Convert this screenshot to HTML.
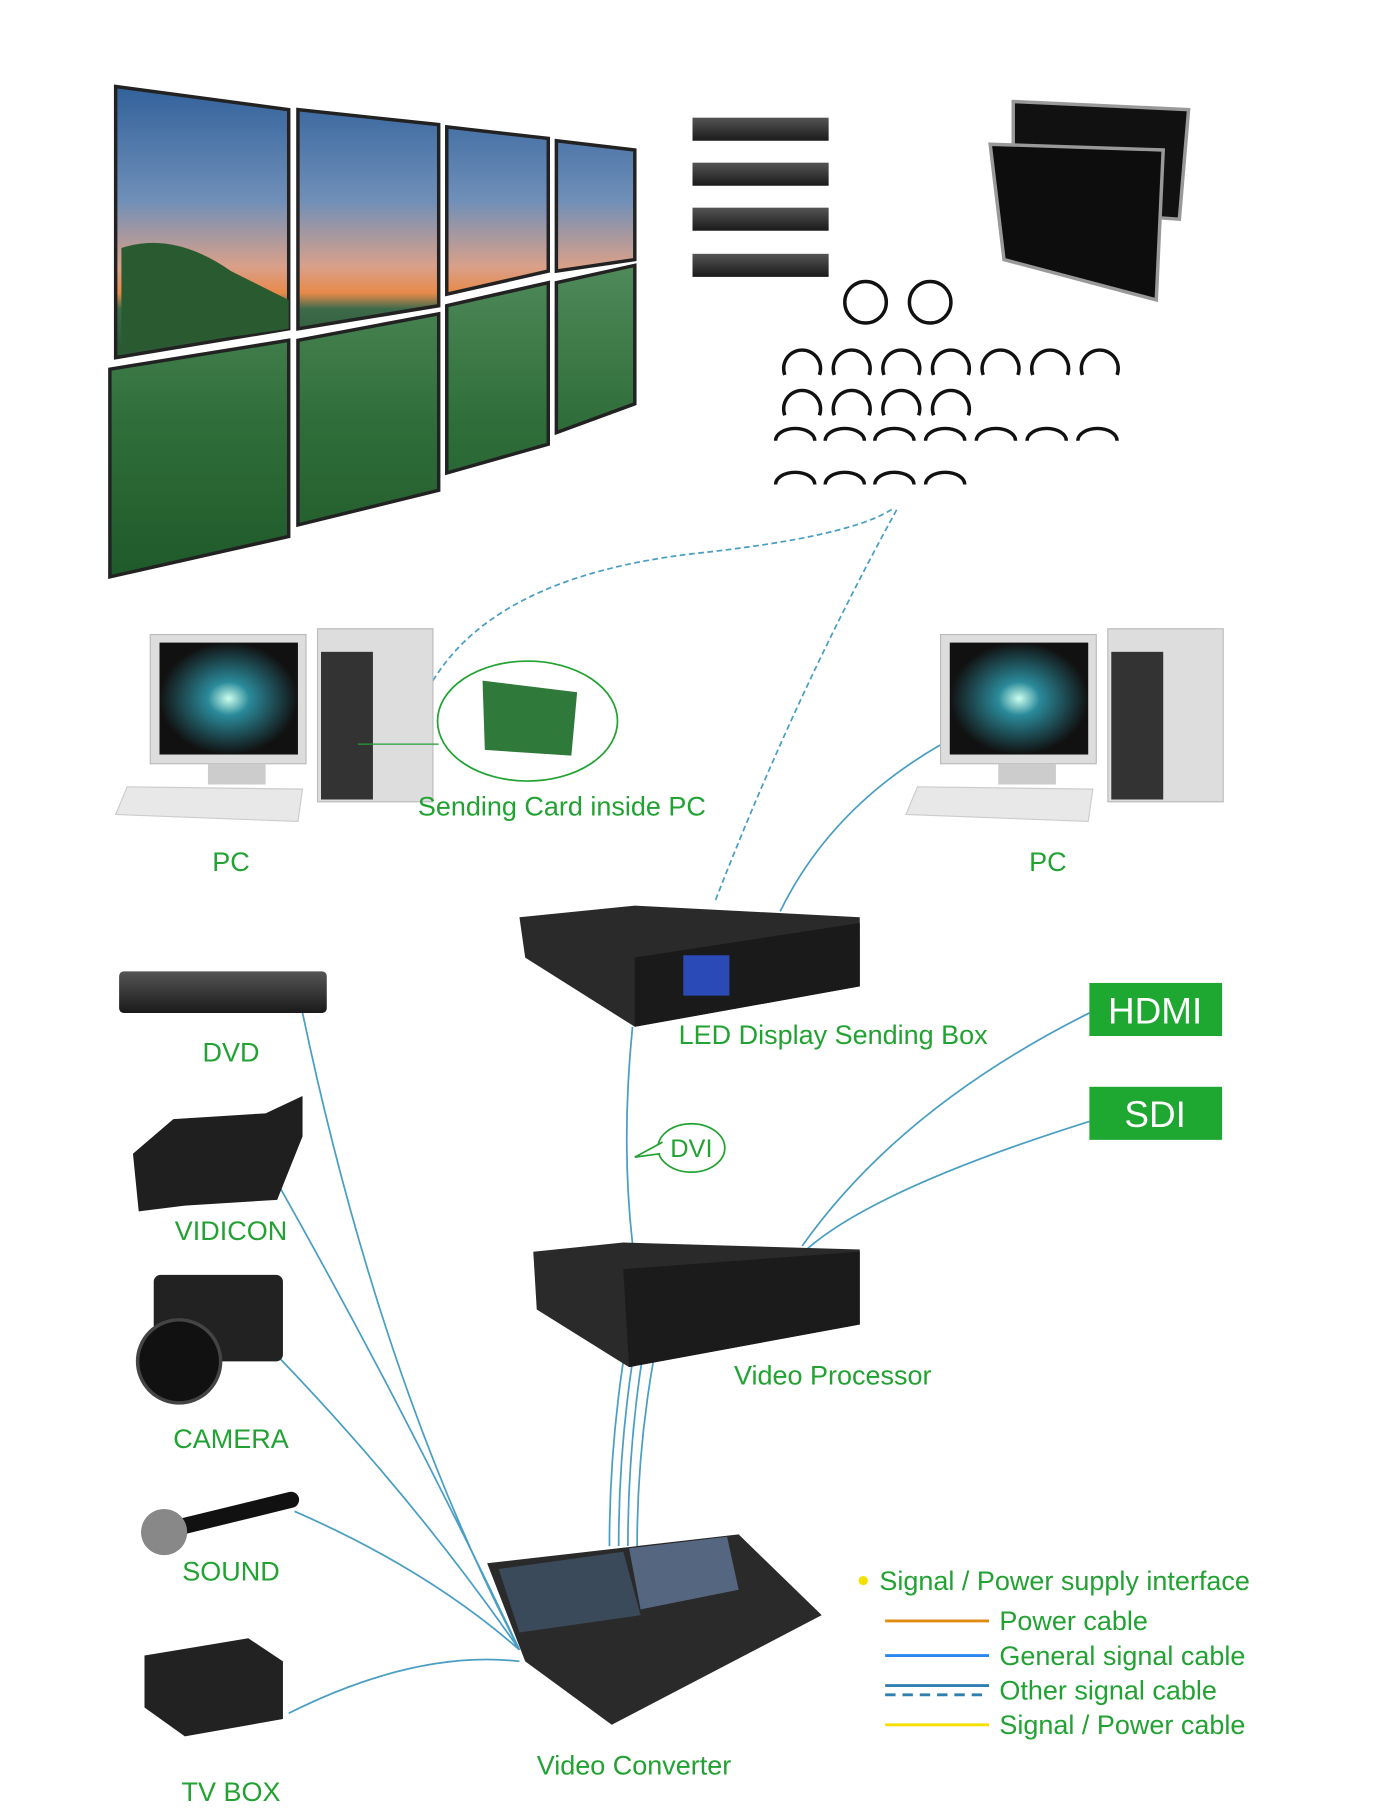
<!DOCTYPE html>
<html><head><meta charset="utf-8"><style>
html,body{margin:0;padding:0;background:#fff}
svg{display:block}
text{font-family:"Liberation Sans",sans-serif;fill:#22a232}
</style></head><body>
<svg width="1400" height="1809" viewBox="0 0 1213 1568" xmlns="http://www.w3.org/2000/svg">
<defs>
<linearGradient id="sky" x1="0" y1="70" x2="0" y2="300" gradientUnits="userSpaceOnUse">
<stop offset="0" stop-color="#2f5f9a"/><stop offset="0.45" stop-color="#6f8fb8"/><stop offset="0.7" stop-color="#d9a08a"/><stop offset="0.8" stop-color="#e88a4a"/><stop offset="0.86" stop-color="#3d6a4a"/><stop offset="1" stop-color="#2d5a35"/></linearGradient>
<linearGradient id="lotus" x1="0" y1="230" x2="0" y2="500" gradientUnits="userSpaceOnUse">
<stop offset="0" stop-color="#4f8a5a"/><stop offset="0.5" stop-color="#2f6e3a"/><stop offset="1" stop-color="#1f5a2a"/></linearGradient>
<linearGradient id="dev" x1="0" y1="0" x2="0" y2="1"><stop offset="0" stop-color="#555"/><stop offset="1" stop-color="#1a1a1a"/></linearGradient>
<radialGradient id="scr"><stop offset="0" stop-color="#cfe"/><stop offset="0.3" stop-color="#2a8a9a"/><stop offset="1" stop-color="#111"/></radialGradient>
</defs>

<g stroke="#222" stroke-width="3">
<polygon points="100,75 250,95 250,285 100,310" fill="url(#sky)"/>
<polygon points="258,95 380,108 380,265 258,285" fill="url(#sky)"/>
<polygon points="387,110 475,120 475,235 387,255" fill="url(#sky)"/>
<polygon points="482,122 550,130 550,225 482,235" fill="url(#sky)"/>
<polygon points="95,320 250,295 250,465 95,500" fill="url(#lotus)"/>
<polygon points="258,295 380,272 380,425 258,455" fill="url(#lotus)"/>
<polygon points="387,265 475,245 475,385 387,410" fill="url(#lotus)"/>
<polygon points="482,245 550,230 550,350 482,375" fill="url(#lotus)"/>
</g>
<path d="M105 215 Q150 200 200 235 L250 260 L250 285 L105 305Z" fill="#2a5a30"/>

<g fill="url(#dev)">
<rect x="600" y="102" width="118" height="20"/><rect x="600" y="141" width="118" height="20"/>
<rect x="600" y="180" width="118" height="20"/><rect x="600" y="220" width="118" height="20"/>
</g>
<g stroke="#999" stroke-width="3">
<polygon points="878,88 1030,95 1022,190 878,180" fill="#111"/>
<polygon points="858,125 1008,130 1002,260 870,225" fill="#0d0d0d"/>
</g>
<g fill="none" stroke="#111" stroke-width="3">
<circle cx="750" cy="262" r="18"/><circle cx="806" cy="262" r="18"/>
<path d="M680 325 a16 16 0 1 1 30 0"/><path d="M723 325 a16 16 0 1 1 30 0"/><path d="M766 325 a16 16 0 1 1 30 0"/><path d="M809 325 a16 16 0 1 1 30 0"/><path d="M852 325 a16 16 0 1 1 30 0"/><path d="M895 325 a16 16 0 1 1 30 0"/><path d="M938 325 a16 16 0 1 1 30 0"/>
<path d="M680 360 a16 16 0 1 1 30 0"/><path d="M723 360 a16 16 0 1 1 30 0"/><path d="M766 360 a16 16 0 1 1 30 0"/><path d="M809 360 a16 16 0 1 1 30 0"/>
<g transform="translate(0,57)"><path d="M672 325 a16 10 0 1 1 34 0"/><path d="M715 325 a16 10 0 1 1 34 0"/><path d="M758 325 a16 10 0 1 1 34 0"/><path d="M802 325 a16 10 0 1 1 34 0"/><path d="M846 325 a16 10 0 1 1 34 0"/><path d="M890 325 a16 10 0 1 1 34 0"/><path d="M934 325 a16 10 0 1 1 34 0"/></g>
<g transform="translate(0,95)"><path d="M672 325 a16 10 0 1 1 34 0"/><path d="M715 325 a16 10 0 1 1 34 0"/><path d="M758 325 a16 10 0 1 1 34 0"/><path d="M802 325 a16 10 0 1 1 34 0"/></g>
</g>

<g fill="none" stroke="#4a9ec4" stroke-width="1.5">
<path d="M375 590 Q430 500 600 480 Q740 465 775 440" stroke-dasharray="5,3"/>
<path d="M620 780 Q690 600 778 440" stroke-dasharray="5,3"/>
<path d="M816 645 Q720 700 676 790"/>
<path d="M548 890 Q538 990 548 1078"/>
<path d="M944 878 Q780 960 695 1080"/>
<path d="M944 972 Q760 1030 700 1082"/>
<path d="M540 1180 Q528 1260 528 1340"/><path d="M548 1180 Q536 1260 536 1340"/><path d="M556 1180 Q544 1260 544 1340"/><path d="M566 1180 Q552 1260 552 1340"/>
<path d="M262 878 Q330 1200 450 1430"/>
<path d="M240 1025 Q350 1220 450 1430"/>
<path d="M240 1175 Q360 1300 450 1430"/>
<path d="M255 1310 Q370 1360 450 1430"/>
<path d="M250 1485 Q360 1430 450 1440"/>
</g>

<g id="pc">
<rect x="130" y="550" width="135" height="112" fill="#ddd" stroke="#bbb"/>
<rect x="138" y="557" width="120" height="97" fill="url(#scr)"/>
<rect x="180" y="662" width="50" height="18" fill="#ccc"/>
<polygon points="110,682 262,684 258,712 100,706" fill="#e8e8e8" stroke="#ccc"/>
<rect x="275" y="545" width="100" height="150" fill="#ddd" stroke="#bbb"/>
<rect x="278" y="565" width="45" height="128" fill="#333"/>
</g>
<use href="#pc" transform="translate(685,0)"/>
<ellipse cx="457" cy="625" rx="78" ry="52" fill="#fff" stroke="#22a232" stroke-width="1.5"/>
<line x1="310" y1="645" x2="380" y2="645" stroke="#22a232"/>
<polygon points="418,590 500,600 495,655 420,650" fill="#2f7a3a"/>

<polygon points="450,795 550,785 745,795 745,855 550,890 455,830" fill="#2a2a2a"/>
<polygon points="550,830 745,800 745,855 550,890" fill="#1a1a1a"/>
<rect x="592" y="828" width="40" height="35" fill="#2a4ab8"/>
<rect x="103" y="842" width="180" height="36" rx="4" fill="url(#dev)"/>
<path d="M115 1000 L150 970 L230 965 L262 950 L262 985 L240 1040 L160 1045 L120 1050Z" fill="#1f1f1f"/>
<rect x="133" y="1105" width="112" height="75" rx="6" fill="#222"/>
<circle cx="155" cy="1180" r="36" fill="#111" stroke="#444" stroke-width="3"/>
<line x1="150" y1="1325" x2="252" y2="1300" stroke="#111" stroke-width="14" stroke-linecap="round"/>
<circle cx="142" cy="1328" r="20" fill="#888"/>
<polygon points="125,1435 215,1420 245,1440 245,1490 160,1505 125,1480" fill="#222"/>

<rect x="944" y="852" width="115" height="46" fill="#1ea832"/>
<text x="1001" y="887" text-anchor="middle" font-size="32" style="fill:#fff">HDMI</text>
<rect x="944" y="942" width="115" height="46" fill="#1ea832"/>
<text x="1001" y="977" text-anchor="middle" font-size="32" style="fill:#fff">SDI</text>

<ellipse cx="599" cy="995" rx="29" ry="21" fill="#fff" stroke="#22a232" stroke-width="1.5"/>
<path d="M572 1000 L550 1003 L574 990" fill="#fff" stroke="#22a232" stroke-width="1.5"/>
<text x="599" y="1003" text-anchor="middle" font-size="22">DVI</text>

<polygon points="462,1085 540,1077 745,1083 745,1148 545,1185 465,1135" fill="#2a2a2a"/>
<polygon points="540,1100 745,1085 745,1148 545,1185" fill="#1b1b1b"/>
<polygon points="422,1355 640,1330 712,1400 530,1495 455,1440" fill="#2a2a2a"/>
<polygon points="432,1360 540,1345 555,1400 450,1415" fill="#3a4a5a"/>
<polygon points="545,1342 630,1332 640,1378 555,1395" fill="#556680"/>

<g font-size="23.4">
<text x="362" y="707">Sending Card inside PC</text>
<text x="200" y="755" text-anchor="middle">PC</text>
<text x="908" y="755" text-anchor="middle">PC</text>
<text x="588" y="905">LED Display Sending Box</text>
<text x="200" y="920" text-anchor="middle">DVD</text>
<text x="200" y="1075" text-anchor="middle">VIDICON</text>
<text x="200" y="1255" text-anchor="middle">CAMERA</text>
<text x="200" y="1370" text-anchor="middle">SOUND</text>
<text x="200" y="1561" text-anchor="middle">TV BOX</text>
<text x="636" y="1200">Video Processor</text>
<text x="465" y="1538">Video Converter</text>
<text x="762" y="1378">Signal / Power supply interface</text>
<text x="866" y="1413">Power cable</text>
<text x="866" y="1443">General signal cable</text>
<text x="866" y="1473">Other signal cable</text>
<text x="866" y="1503">Signal / Power cable</text>
</g>
<circle cx="748" cy="1370" r="4" fill="#f2e000"/>
<line x1="767" y1="1405" x2="857" y2="1405" stroke="#e08a10" stroke-width="2.5"/>
<line x1="767" y1="1435" x2="857" y2="1435" stroke="#2a86ee" stroke-width="2.5"/>
<line x1="767" y1="1461" x2="857" y2="1461" stroke="#2f7fb0" stroke-width="2.5"/>
<line x1="767" y1="1469" x2="857" y2="1469" stroke="#2f7fb0" stroke-width="2.5" stroke-dasharray="9,6"/>
<line x1="767" y1="1495" x2="857" y2="1495" stroke="#f5e000" stroke-width="2.5"/>
</svg>
</body></html>
